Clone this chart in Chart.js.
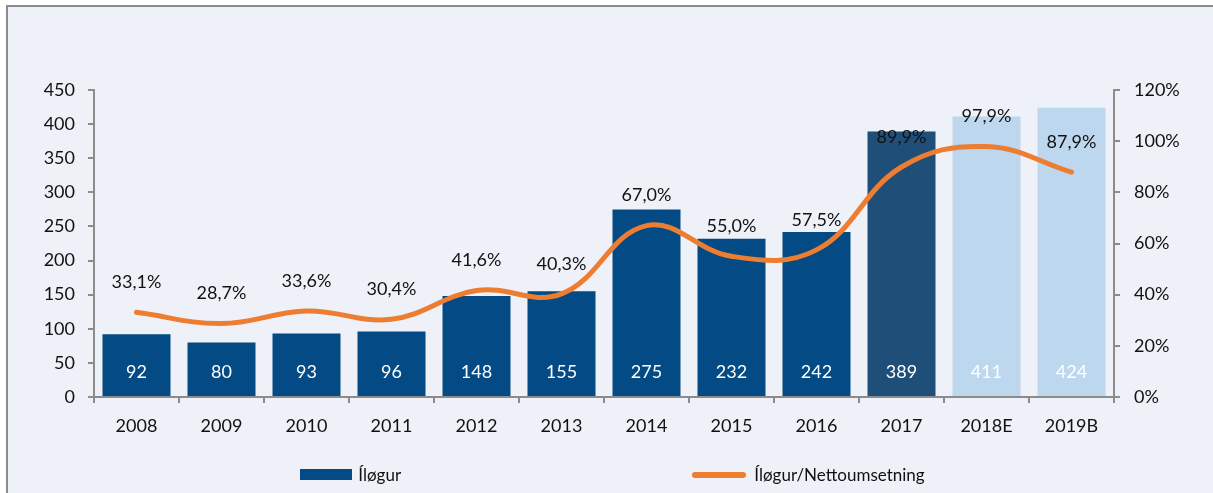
<!DOCTYPE html>
<html>
<head>
<meta charset="utf-8">
<script src="https://cdn.jsdelivr.net/npm/chart.js@4/dist/chart.umd.min.js"></script>
<style>
    html, body { margin: 0; padding: 0; background: #fff; overflow: hidden; }
    .wrap { position: relative; width: 1213px; height: 493px; }
    .frame {
        position: absolute; left: 6px; top: 5px; width: 1220px; height: 500px;
        background: #eef1f7; border: 2px solid #8c8c8c;
    }
    canvas { position: absolute; left: 0; top: 0; }
    .legend { position: absolute; top: 462px; font: 17px Lato, sans-serif; color: #111; }
    .legend span { display: inline-block; vertical-align: middle; }
</style>
</head>
<body>
<div class="wrap">
    <div class="frame"></div>
    <canvas id="chart" width="1213" height="493"></canvas>
    <div class="legend" style="left:300px">
        <span style="width:52px;height:11px;background:#044a84"></span>
        <span style="margin-left:2px">Íløgur</span>
    </div>
    <div class="legend" style="left:692px">
        <span style="width:54px;height:6px;border-radius:3px;background:#ed7d31"></span>
        <span style="margin-left:4px">Íløgur/Nettoumsetning</span>
    </div>
</div>
<script>
// Chart data
const years = ['2008', '2009', '2010', '2011', '2012', '2013', '2014', '2015', '2016', '2017', '2018E', '2019B'];
const revenue = [92, 80, 93, 96, 148, 155, 275, 232, 242, 389, 411, 424];
const ratio = [33.1, 28.7, 33.6, 30.4, 41.6, 40.3, 67.0, 55.0, 57.5, 89.9, 97.9, 87.9];
const leftTicks = [0, 50, 100, 150, 200, 250, 300, 350, 400, 450];
const rightTicks = [0, 20, 40, 60, 80, 100, 120];

const barColors = years.map(y => {
    if (y === '2017') return '#1f4e79';
    if (y.endsWith('E') || y.endsWith('B')) return '#bdd7ee';
    return '#044a84';
});

const fmtPct = v => v.toFixed(1).replace('.', ',') + '%';
const FONT = 'Lato, sans-serif';

// draws value labels on bars and above the line
const labelPlugin = {
    id: 'labels',
    afterDatasetsDraw(chart) {
        const ctx = chart.ctx;
        const base = chart.scales.y.getPixelForValue(0);
        ctx.save();
        ctx.font = '18px ' + FONT;
        ctx.textAlign = 'center';
        ctx.textBaseline = 'middle';

        chart.getDatasetMeta(0).data.forEach((bar, i) => {
            ctx.fillStyle = '#ffffff';
            ctx.fillText(String(revenue[i]), bar.x, base - 25);
        });

        chart.getDatasetMeta(1).data.forEach((pt, i) => {
            ctx.fillStyle = '#111111';
            ctx.fillText(fmtPct(ratio[i]), pt.x, pt.y - 30);
        });
        ctx.restore();
    }
};

const axisGrid = {
    display: true,
    drawOnChartArea: false,
    drawTicks: true,
    tickLength: 6,
    color: '#8c8c8c',
    lineWidth: 2
};

const ctx = document.getElementById('chart').getContext('2d');
const chart = new Chart(ctx, {
    data: {
        labels: years,
        datasets: [
            {
                type: 'bar',
                label: 'Íløgur',
                data: revenue,
                backgroundColor: barColors,
                borderWidth: 0,
                barPercentage: 0.8,
                categoryPercentage: 1.0,
                yAxisID: 'y',
                order: 2
            },
            {
                type: 'line',
                label: 'Íløgur/Nettoumsetning',
                data: ratio,
                borderColor: '#ed7d31',
                borderWidth: 5,
                borderCapStyle: 'round',
                tension: 0.4,
                pointRadius: 0,
                fill: false,
                yAxisID: 'y1',
                order: 1
            }
        ]
    },
    options: {
        responsive: false,
        animation: false,
        layout: { padding: { top: 90, left: 0, right: 0, bottom: 0 } },
        plugins: {
            legend: { display: false },
            tooltip: { enabled: false }
        },
        scales: {
            x: {
                offset: true,
                grid: Object.assign({}, axisGrid, { offset: true }),
                border: { display: true, color: '#8c8c8c', width: 2 },
                ticks: { color: '#111', font: { family: FONT, size: 18 }, padding: 12 },
                afterFit(scale) { scale.height = 96; }
            },
            y: {
                position: 'left',
                min: 0,
                max: 450,
                afterBuildTicks(scale) { scale.ticks = leftTicks.map(v => ({ value: v })); },
                grid: axisGrid,
                border: { display: true, color: '#8c8c8c', width: 2 },
                ticks: { color: '#111', font: { family: FONT, size: 18 }, padding: 13 },
                afterFit(scale) { scale.width = 94; }
            },
            y1: {
                position: 'right',
                min: 0,
                max: 120,
                afterBuildTicks(scale) { scale.ticks = rightTicks.map(v => ({ value: v })); },
                grid: axisGrid,
                border: { display: true, color: '#8c8c8c', width: 2 },
                ticks: {
                    color: '#111',
                    font: { family: FONT, size: 18 },
                    padding: 14,
                    callback: v => v + '%'
                },
                afterFit(scale) { scale.width = 99; }
            }
        }
    },
    plugins: [labelPlugin]
});
</script>
</body>
</html>
